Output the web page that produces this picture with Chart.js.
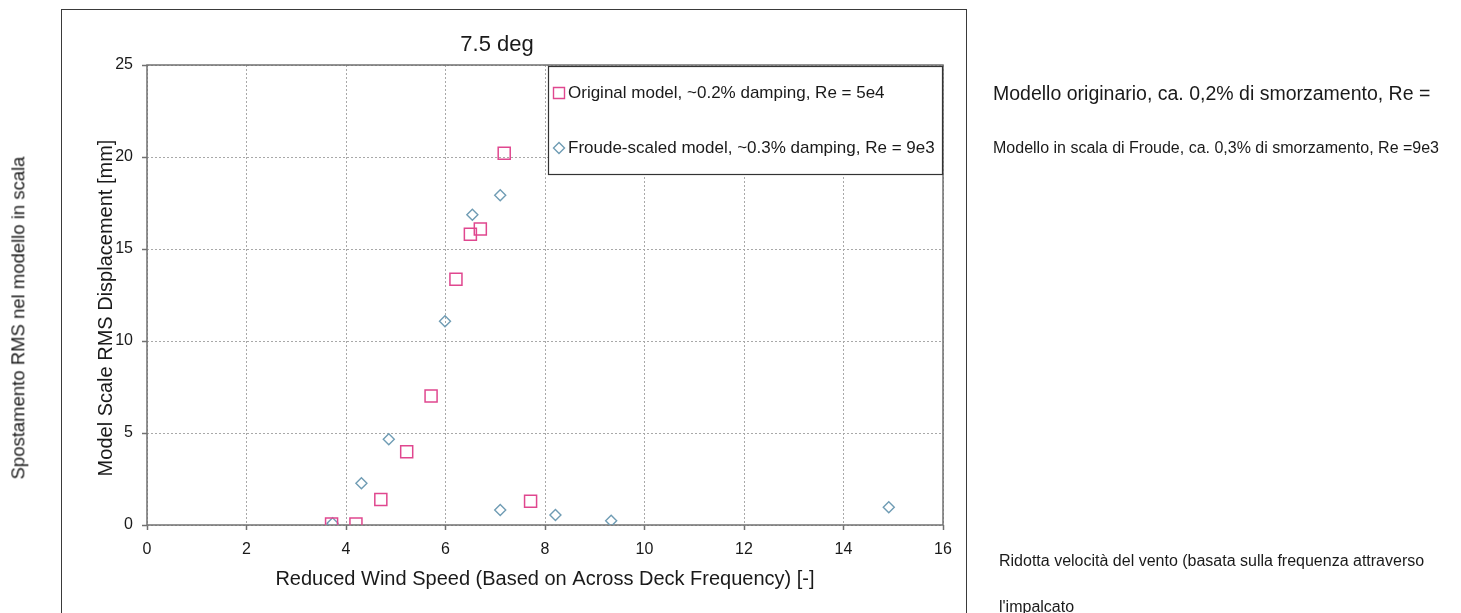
<!DOCTYPE html>
<html>
<head>
<meta charset="utf-8">
<script src="https://cdn.jsdelivr.net/npm/chart.js@4/dist/chart.umd.min.js"></script>
<style>
  html, body { margin: 0; padding: 0; background: #fff; overflow: hidden; }
  #wrap { position: relative; width: 1461px; height: 613px; font-family: "Liberation Sans", Arial, sans-serif; color: #1a1a1a; }
  #c { position: absolute; left: 0; top: 0; }
  .note { position: absolute; white-space: nowrap; line-height: 1.15; transform: translateY(-50%); }
  .side { position: absolute; white-space: nowrap; line-height: 1.15; transform: translate(-50%, -50%) rotate(-90deg); }
</style>
</head>
<body>
<div id="wrap">
  <canvas id="c" width="1461" height="613"></canvas>
  <div class="note" style="left:993px; top:93px; font-size:19.5px;">Modello originario, ca. 0,2% di smorzamento, Re =</div>
  <div class="note" style="left:993px; top:148px; font-size:16px;">Modello in scala di Froude, ca. 0,3% di smorzamento, Re =9e3</div>
  <div class="note" style="left:999px; top:561px; font-size:16px;">Ridotta velocità del vento (basata sulla frequenza attraverso</div>
  <div class="note" style="left:999px; top:607px; font-size:16px;">l'impalcato</div>
  <div class="side" style="left:18px; top:318px; font-size:18.5px;">Spostamento RMS nel modello in scala</div>
</div>
<script>
// Reduced wind speed vs. RMS displacement, 7.5 deg case
const chartTitle = '7.5 deg';
const xAxisTitle = 'Reduced Wind Speed (Based on Across Deck Frequency) [-]';
const yAxisTitle = 'Model Scale RMS Displacement [mm]';

const originalLabel = 'Original model, ~0.2% damping, Re = 5e4';
const originalX = [3.71, 4.20, 4.70, 5.22, 5.71, 6.21, 6.50, 6.70, 7.18, 7.71];
const originalY = [0.05, 0.05, 1.38, 3.98, 7.01, 13.35, 15.80, 16.09, 20.20, 1.29];

const froudeLabel = 'Froude-scaled model, ~0.3% damping, Re = 9e3';
const froudeX = [3.73, 4.31, 4.86, 5.99, 6.54, 7.10, 7.10, 8.21, 9.33, 14.91];
const froudeY = [0.09, 2.27, 4.66, 11.07, 16.86, 17.92, 0.82, 0.54, 0.23, 0.97];

const xTickValues = [0, 2, 4, 6, 8, 10, 12, 14, 16];
const yTickValues = [0, 5, 10, 15, 20, 25];

const FONT = '"Liberation Sans", Arial, sans-serif';
const TEXT = '#1a1a1a';
const PINK = '#e0478f';
const BLUE = '#6f9cb4';

const toPoints = (xs, ys) => xs.map((x, i) => ({ x, y: ys[i] }));

function markerPath(ctx, style, x, y) {
  ctx.beginPath();
  if (style === 'rect') {
    ctx.rect(x - 5.5, y - 5.5, 11, 11);
  } else {
    ctx.moveTo(x, y - 5.5);
    ctx.lineTo(x + 5.5, y);
    ctx.lineTo(x, y + 5.5);
    ctx.lineTo(x - 5.5, y);
    ctx.closePath();
  }
}

const decorations = {
  id: 'decorations',
  beforeDraw(chart) {
    const ctx = chart.ctx;
    ctx.save();
    ctx.fillStyle = '#fff';
    ctx.fillRect(0, 0, chart.width, chart.height);
    // outer frame around the chart block
    ctx.strokeStyle = '#3a3a3a';
    ctx.lineWidth = 1;
    ctx.strokeRect(61.5, 9.5, 905, 640);
    ctx.restore();
  },
  beforeDatasetsDraw(chart) {
    const { ctx, chartArea: a } = chart;
    ctx.save();
    // plot box
    ctx.strokeStyle = '#707070';
    ctx.lineWidth = 1.5;
    ctx.strokeRect(a.left, a.top, a.right - a.left, a.bottom - a.top);
    // chart title
    ctx.fillStyle = TEXT;
    ctx.font = '22px ' + FONT;
    ctx.textAlign = 'center';
    ctx.textBaseline = 'middle';
    ctx.fillText(chartTitle, 497, 45);
    // vertical axis title
    ctx.translate(106, 308);
    ctx.rotate(-Math.PI / 2);
    ctx.font = '20px ' + FONT;
    ctx.fillText(yAxisTitle, 0, 0);
    ctx.restore();
  },
  afterDatasetsDraw(chart) {
    const { ctx, chartArea: a } = chart;
    const left = a.right - 395, top = a.top + 1, w = 394, h = 108;
    ctx.save();
    ctx.fillStyle = '#fff';
    ctx.fillRect(left, top, w, h);
    ctx.strokeStyle = '#333';
    ctx.lineWidth = 1.2;
    ctx.strokeRect(left + 0.5, top + 0.5, w, h);
    ctx.font = '17px ' + FONT;
    ctx.textAlign = 'left';
    ctx.textBaseline = 'middle';
    const rows = [top + 27, top + 82];
    chart.data.datasets.forEach((ds, i) => {
      ctx.strokeStyle = ds.borderColor;
      ctx.lineWidth = 1.4;
      markerPath(ctx, ds.pointStyle, left + 11, rows[i]);
      ctx.stroke();
      ctx.fillStyle = TEXT;
      ctx.fillText(ds.label, left + 20, rows[i]);
    });
    ctx.restore();
  }
};

new Chart(document.getElementById('c'), {
  type: 'scatter',
  data: {
    datasets: [
      {
        label: originalLabel,
        data: toPoints(originalX, originalY),
        pointStyle: 'rect',
        radius: 8.5,
        hoverRadius: 8.5,
        borderWidth: 1.5,
        borderColor: PINK,
        backgroundColor: 'rgba(0,0,0,0)'
      },
      {
        label: froudeLabel,
        data: toPoints(froudeX, froudeY),
        pointStyle: 'rectRot',
        radius: 5.5,
        hoverRadius: 5.5,
        borderWidth: 1.4,
        borderColor: BLUE,
        backgroundColor: 'rgba(0,0,0,0)'
      }
    ]
  },
  options: {
    responsive: false,
    animation: false,
    devicePixelRatio: 1,
    layout: { padding: { left: 90, right: 518, top: 65, bottom: 18 } },
    plugins: {
      legend: { display: false },
      title: { display: false },
      tooltip: { enabled: false }
    },
    scales: {
      x: {
        type: 'linear',
        min: 0,
        max: 16,
        afterBuildTicks: s => { s.ticks = xTickValues.map(v => ({ value: v })); },
        afterFit: s => { s.height = 70; },
        ticks: { font: { family: FONT, size: 16 }, color: TEXT, padding: 10, maxRotation: 0 },
        grid: { color: '#a8a8a8', lineWidth: 1, tickLength: 5, tickColor: '#707070', tickWidth: 1.5, tickBorderDash: [] },
        border: { display: false, dash: [2, 2] },
        title: { display: true, text: xAxisTitle, font: { family: FONT, size: 20 }, color: TEXT, padding: { top: 4, bottom: 4 } }
      },
      y: {
        type: 'linear',
        min: 0,
        max: 25,
        afterBuildTicks: s => { s.ticks = yTickValues.map(v => ({ value: v })); },
        afterFit: s => { s.width = 57; },
        ticks: { font: { family: FONT, size: 16 }, color: TEXT, padding: 9 },
        grid: { color: '#a8a8a8', lineWidth: 1, tickLength: 5, tickColor: '#707070', tickWidth: 1.5, tickBorderDash: [] },
        border: { display: false, dash: [2, 2] }
      }
    }
  },
  plugins: [decorations]
});
</script>
</body>
</html>
